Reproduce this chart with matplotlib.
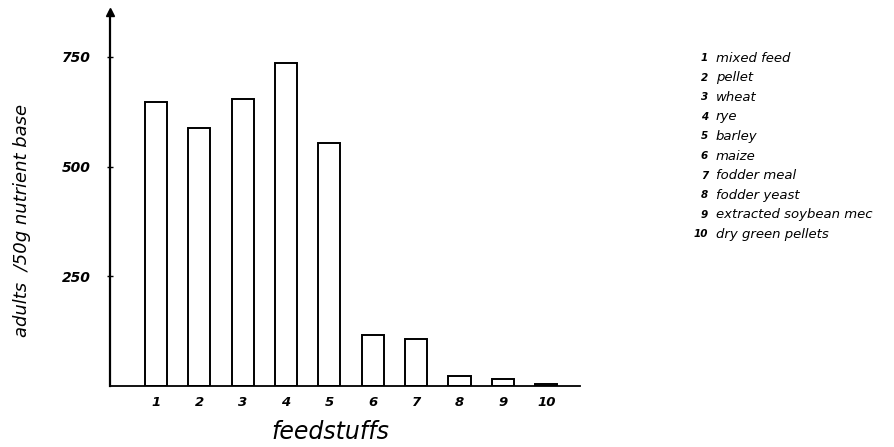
import matplotlib
matplotlib.use("Agg")
import matplotlib.pyplot as plt

categories = ["1", "2", "3", "4", "5", "6", "7", "8", "9", "10"]
values = [647, 588, 654, 736, 554, 117, 106, 23, 15, 4]
legend_names = ["mixed feed", "pellet", "wheat", "rye", "barley", "maize",
                "fodder meal", "fodder yeast", "extracted soybean mec",
                "dry green pellets"]
yticks = [250, 500, 750]

W, H = 894, 447
fig = plt.figure(figsize=(W / 100, H / 100), dpi=100)

# axes in pixel coordinates
x0, x1 = 110, 580
ytop, ybot = 12, 386
ax = fig.add_axes([x0 / W, (H - ybot) / H, (x1 - x0) / W, (ybot - ytop) / H])

pos = list(range(1, len(values) + 1))
ax.bar(pos, values, width=0.51, facecolor="white", edgecolor="black", linewidth=1.4)

ax.set_xlim(-0.06, 10.78)
ax.set_ylim(0, 852)

for s in ["top", "right"]:
    ax.spines[s].set_visible(False)
ax.spines["left"].set_linewidth(1.6)
ax.spines["bottom"].set_linewidth(1.3)
ax.plot(0, 1, marker="^", color="black", markersize=6, transform=ax.transAxes, clip_on=False)

ax.set_yticks(yticks)
ax.set_yticklabels([str(t) for t in yticks], fontsize=10, style="italic", fontweight="bold")
ax.tick_params(axis="y", direction="inout", length=4, width=1, pad=12)
ax.set_xticks(pos)
ax.set_xticklabels(categories, fontsize=9.5, style="italic", fontweight="bold")
ax.tick_params(axis="x", length=0, pad=7)

fig.text(22 / W, 1 - 220 / H, "adults  /50g nutrient base", fontsize=13, style="italic",
         rotation=90, ha="center", va="center")
fig.text(330 / W, 1 - 432 / H, "feedstuffs", fontsize=17, style="italic",
         ha="center", va="center")

# legend text column
for i, name in enumerate(legend_names):
    y = 58 + i * 19.6
    fig.text(708 / W, 1 - y / H, str(i + 1), fontsize=7.5, style="italic", fontweight="bold",
             ha="right", va="center")
    fig.text(716 / W, 1 - y / H, name, fontsize=9.5, style="italic", ha="left", va="center")

fig.savefig("out.png", dpi=100)
